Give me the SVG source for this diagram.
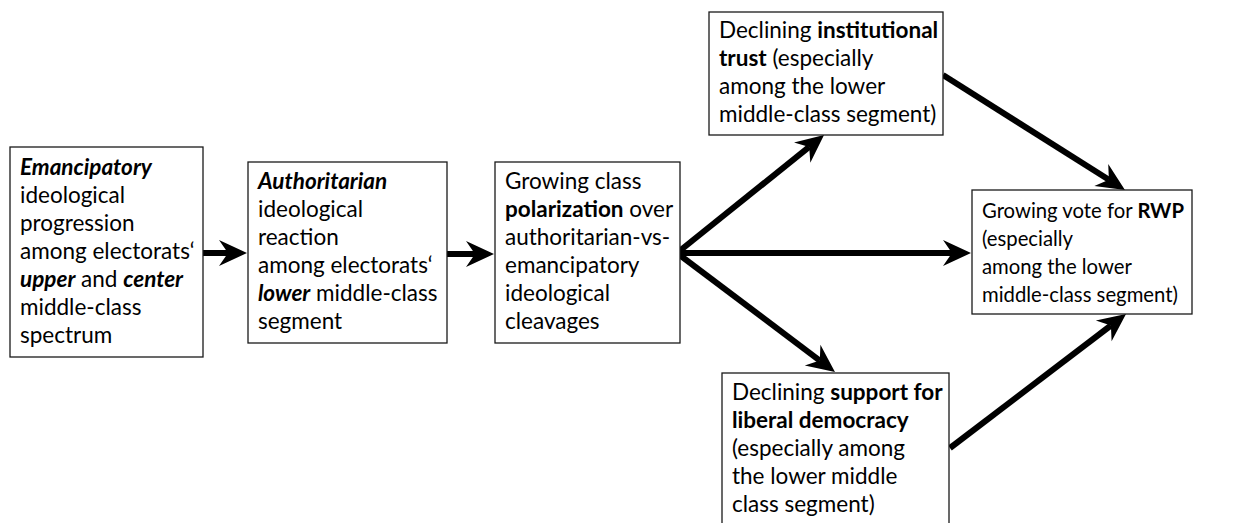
<svg xmlns="http://www.w3.org/2000/svg" width="1247" height="523" viewBox="0 0 1247 523">
<style>
.box{fill:#fff;stroke:#1a1a1a;stroke-width:1.3}
.t{font-family:Lato,"Open Sans","Liberation Sans",sans-serif;font-size:22.5px;fill:#000}
.s{font-size:20.3px}
.b{font-weight:bold}
.bi{font-weight:bold;font-style:italic}
.c{stroke:#000;stroke-width:6;fill:none;stroke-linecap:butt}
</style>
<defs>
<marker id="ah" markerUnits="userSpaceOnUse" markerWidth="30" markerHeight="30" viewBox="0 -15 30 30" refX="9" refY="0" orient="auto" overflow="visible">
<path d="M0,-13 L28,0 L0,13 L9,0 Z" fill="#000"/>
</marker>
</defs>
<rect width="1247" height="523" fill="#fff"/>
<g id="connectors">
<line class="c" x1="203" y1="253" x2="228" y2="253" marker-end="url(#ah)"/>
<line class="c" x1="447" y1="254" x2="475" y2="254" marker-end="url(#ah)"/>
<line class="c" x1="677" y1="253" x2="809.2" y2="146.9" marker-end="url(#ah)"/>
<line class="c" x1="677" y1="253" x2="952" y2="253" marker-end="url(#ah)"/>
<line class="c" x1="677" y1="253" x2="819.8" y2="360.6" marker-end="url(#ah)"/>
<line class="c" x1="943" y1="75" x2="1108.9" y2="179.8" marker-end="url(#ah)"/>
<line class="c" x1="950" y1="448" x2="1110.9" y2="325.5" marker-end="url(#ah)"/>
</g>
<g id="n1">
<rect class="box" x="10" y="147" width="193" height="210"/>
<text class="t" x="20" y="175"><tspan class="bi">Emancipatory</tspan></text>
<text class="t" x="20" y="203">ideological</text>
<text class="t" x="20" y="231">progression</text>
<text class="t" x="20" y="259">among electorats&#8216;</text>
<text class="t" x="20" y="287"><tspan class="bi">upper</tspan> and <tspan class="bi">center</tspan></text>
<text class="t" x="20" y="315">middle-class</text>
<text class="t" x="20" y="343">spectrum</text>
</g>
<g id="n2">
<rect class="box" x="248" y="162" width="199" height="181"/>
<text class="t" x="258" y="189"><tspan class="bi">Authoritarian</tspan></text>
<text class="t" x="258" y="217">ideological</text>
<text class="t" x="258" y="245">reaction</text>
<text class="t" x="258" y="273">among electorats&#8216;</text>
<text class="t" x="258" y="301"><tspan class="bi">lower</tspan> middle-class</text>
<text class="t" x="258" y="329">segment</text>
</g>
<g id="n3">
<rect class="box" x="495" y="162" width="185" height="181"/>
<text class="t" x="505" y="189">Growing class</text>
<text class="t" x="505" y="217"><tspan class="b">polarization</tspan> over</text>
<text class="t" x="505" y="245">authoritarian-vs-</text>
<text class="t" x="505" y="273">emancipatory</text>
<text class="t" x="505" y="301">ideological</text>
<text class="t" x="505" y="329">cleavages</text>
</g>
<g id="n4">
<rect class="box" x="709" y="12" width="234" height="123"/>
<text class="t" x="719" y="38">Declining <tspan class="b">institutional</tspan></text>
<text class="t" x="719" y="66"><tspan class="b">trust</tspan> (especially</text>
<text class="t" x="719" y="94">among the lower</text>
<text class="t" x="719" y="122">middle-class segment)</text>
</g>
<g id="n5">
<rect class="box" x="972" y="190" width="220" height="124"/>
<text class="t s" x="982" y="218">Growing vote for <tspan class="b">RWP</tspan></text>
<text class="t s" x="982" y="246">(especially</text>
<text class="t s" x="982" y="274">among the lower</text>
<text class="t s" x="982" y="302">middle-class segment)</text>
</g>
<g id="n6">
<rect class="box" x="722" y="373" width="227" height="170"/>
<text class="t" x="732" y="400">Declining <tspan class="b">support for</tspan></text>
<text class="t" x="732" y="428"><tspan class="b">liberal democracy</tspan></text>
<text class="t" x="732" y="456">(especially among</text>
<text class="t" x="732" y="484">the lower middle</text>
<text class="t" x="732" y="512">class segment)</text>
</g>
</svg>
